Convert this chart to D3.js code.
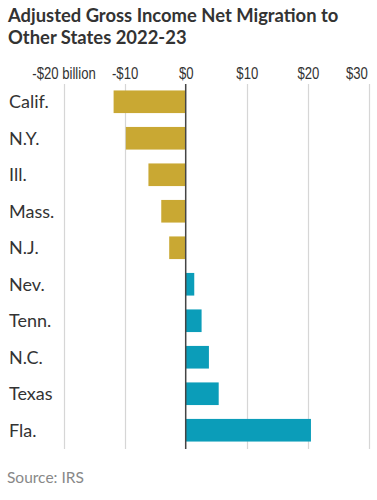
<!DOCTYPE html>
<html>
<head>
<meta charset="utf-8">
<script src="https://cdn.jsdelivr.net/npm/d3@7"></script>
<style>
  body { margin: 0; background: #fff; }
  svg { display: block; }
  .grid path { fill: none; stroke: #d6d6d6; stroke-width: 1.2px; }
</style>
</head>
<body>
<svg width="377" height="500"></svg>
<script>
// data
var states = ["Calif.", "N.Y.", "Ill.", "Mass.", "N.J.", "Nev.", "Tenn.", "N.C.", "Texas", "Fla."];
var values = [-11.8, -9.8, -6.1, -4.0, -2.7, 1.4, 2.6, 3.8, 5.4, 20.5];
var tickValues = [-20, -10, 0, 10, 20, 30];
var tickLabels = ["-$20 billion", "-$10", "$0", "$10", "$20", "$30"];

var svg = d3.select("svg");

// scales
var x = d3.scaleLinear()
    .domain([-20, 30])
    .range([63.5, 369]);

var y = d3.scaleBand()
    .domain(states)
    .range([79.5, 452.5])
    .paddingInner(0.38)
    .paddingOuter(0.3);

// title
var title = svg.append("text")
    .attr("font-family", "Lato, sans-serif")
    .attr("font-weight", "bold")
    .attr("font-size", 18.4)
    .attr("fill", "#333");
title.append("tspan").attr("x", 8).attr("y", 21.5).text("Adjusted Gross Income Net Migration to");
title.append("tspan").attr("x", 8).attr("y", 44).text("Other States 2022-23");

// gridlines as one path per tick
svg.append("g")
    .attr("class", "grid")
    .selectAll("path")
    .data(tickValues.filter(function(d) { return d !== 0; }))
    .enter().append("path")
    .attr("d", function(d) {
        var p = d3.path();
        p.moveTo(Math.round(x(d)) + 0.5, 84);
        p.lineTo(Math.round(x(d)) + 0.5, 449);
        return p.toString();
    });

// top labels (narrow look: squeeze horizontally)
var xAxis = d3.axisTop(x)
    .tickValues(tickValues)
    .tickSize(0)
    .tickPadding(0)
    .tickFormat(function(d, i) { return tickLabels[i]; });

var gx = svg.append("g")
    .attr("transform", "translate(0,79)")
    .call(xAxis);
gx.select(".domain").remove();
gx.selectAll("text")
    .attr("font-family", "'Liberation Sans', Arial, sans-serif")
    .attr("font-size", 16)
    .attr("fill", "#333")
    .attr("text-anchor", function(d) { return d === 30 ? "end" : "middle"; })
    .attr("x", function(d) { return d === 30 ? -2 : 0; })
    .attr("transform", "scale(0.82,1)");

// bars
svg.append("g")
    .selectAll("rect")
    .data(values)
    .enter().append("rect")
    .attr("x", function(d) { return x(Math.min(0, d)); })
    .attr("y", function(d, i) { return y(states[i]); })
    .attr("width", function(d) { return Math.abs(x(d) - x(0)); })
    .attr("height", y.bandwidth())
    .attr("fill", function(d) { return d < 0 ? "#c9a833" : "#0b9db9"; });

// zero line
svg.append("line")
    .attr("x1", x(0)).attr("x2", x(0))
    .attr("y1", 84).attr("y2", 449)
    .attr("stroke", "#444")
    .attr("stroke-width", 1.5);

// category labels
svg.append("g")
    .selectAll("text")
    .data(states)
    .enter().append("text")
    .attr("x", 9)
    .attr("y", function(d) { return y(d) + y.bandwidth() / 2; })
    .attr("dy", "0.36em")
    .attr("font-family", "Lato, sans-serif")
    .attr("font-size", 18)
    .attr("fill", "#333")
    .text(function(d) { return d; });

// source
svg.append("text")
    .attr("x", 7).attr("y", 483)
    .attr("font-family", "Lato, sans-serif")
    .attr("font-size", 15.5)
    .attr("fill", "#888")
    .text("Source: IRS");
</script>
</body>
</html>
